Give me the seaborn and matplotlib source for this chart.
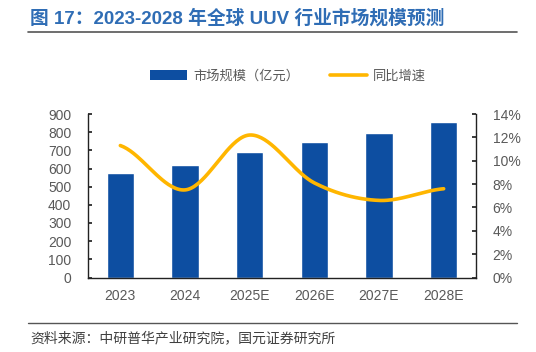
import matplotlib
matplotlib.use('Agg')
import matplotlib.pyplot as plt
import seaborn as sns
import numpy as np
import pandas as pd
from matplotlib.lines import Line2D
from matplotlib.patches import Patch

years = ['2023', '2024', '2025E', '2026E', '2027E', '2028E']
market_size = [575, 618, 691, 746, 796, 856]  # 亿元
growth = [0.113, 0.075, 0.122, 0.081, 0.066, 0.076]

bar_color = '#0D4EA1'
line_color = '#FFB600'
tick_color = '#595959'

sns.set_theme(style='white')
plt.rcParams['font.family'] = ['Liberation Sans', 'Noto Sans CJK SC']

fig = plt.figure(figsize=(5.36, 3.52), dpi=100)
ax = fig.add_axes([88 / 536, 1 - 277.5 / 352, (476 - 88) / 536, (277.5 - 114) / 352])

df = pd.DataFrame({'year': years, 'size': market_size})
sns.barplot(data=df, x='year', y='size', color=bar_color, width=0.42,
            saturation=1, ax=ax)
ax.set_xlim(-0.5, len(years) - 0.5)
ax.set_ylim(0, 900)
ax.set_yticks(range(0, 901, 100))
ax.set_xlabel('')
ax.set_ylabel('')


def smooth(vals, n=40):
    # catmull-rom through the points, like excel smoothed lines
    p = [vals[0]] + list(vals) + [vals[-1]]
    xs, ys = [], []
    for i in range(1, len(p) - 2):
        t = np.linspace(0, 1, n)
        p0, p1, p2, p3 = p[i - 1], p[i], p[i + 1], p[i + 2]
        y = 0.5 * (2 * p1 + (-p0 + p2) * t + (2 * p0 - 5 * p1 + 4 * p2 - p3) * t ** 2
                   + (-p0 + 3 * p1 - 3 * p2 + p3) * t ** 3)
        xs.extend(i - 1 + t)
        ys.extend(y)
    return np.array(xs), np.array(ys)


ax2 = ax.twinx()
sx, sy = smooth(growth)
ax2.plot(sx, sy, color=line_color, lw=2.6, solid_capstyle='round')
ax2.set_ylim(0, 0.14)
ax2.set_yticks(np.arange(0, 0.141, 0.02))
ax2.set_yticklabels([f'{int(round(v * 100))}%' for v in np.arange(0, 0.141, 0.02)])

for a in (ax, ax2):
    for s in a.spines.values():
        s.set_visible(False)
ax.spines['left'].set_visible(True)
ax.spines['bottom'].set_visible(True)
ax2.spines['right'].set_visible(True)
for s in (ax.spines['left'], ax.spines['bottom'], ax2.spines['right']):
    s.set_color('#222222')
    s.set_linewidth(1.0)

ax.set_xticks(np.arange(-0.5, len(years), 1), minor=True)
ax.tick_params(axis='x', which='major', length=0, pad=8, labelsize=10, colors=tick_color)
ax.tick_params(axis='x', which='minor', direction='in', length=3, color='#222222', width=1)
ax.tick_params(axis='y', direction='in', length=3, color='#222222', pad=12,
               labelsize=10, labelcolor=tick_color, left=True)
ax2.tick_params(axis='y', direction='in', length=3, color='#222222', pad=12,
                labelsize=10, labelcolor=tick_color, right=True)

# legend
handles = [Patch(facecolor=bar_color, edgecolor='none'),
           Line2D([0], [0], color=line_color, lw=2.6)]
fig.legend(handles, ['市场规模（亿元）', '同比增速'], loc='center',
           bbox_to_anchor=(288 / 536, 1 - 76 / 352), ncol=2, frameon=False,
           prop={'family': 'Noto Sans CJK SC', 'size': 9.5}, labelcolor=tick_color,
           handlelength=2.8, handleheight=0.75, columnspacing=2.3, handletextpad=0.5)

# title and source
fig.text(30 / 536, 1 - 18 / 352, '图 17：2023-2028 年全球 UUV 行业市场规模预测',
         color='#2F6DB5', fontsize=13.5, fontweight='bold', va='center', ha='left',
         family=['Liberation Sans', 'Noto Sans CJK SC'])
fig.add_artist(Line2D([28 / 536, 517 / 536], [1 - 32 / 352, 1 - 32 / 352],
                      color='#555555', lw=1.2))
fig.add_artist(Line2D([28 / 536, 517 / 536], [1 - 323 / 352, 1 - 323 / 352],
                      color='#555555', lw=1.0))
fig.text(30 / 536, 1 - 338 / 352, '资料来源：中研普华产业研究院，国元证券研究所',
         color='#404040', fontsize=10, va='center', ha='left',
         family=['Noto Sans CJK SC'])

fig.savefig('out.png', dpi=100)
